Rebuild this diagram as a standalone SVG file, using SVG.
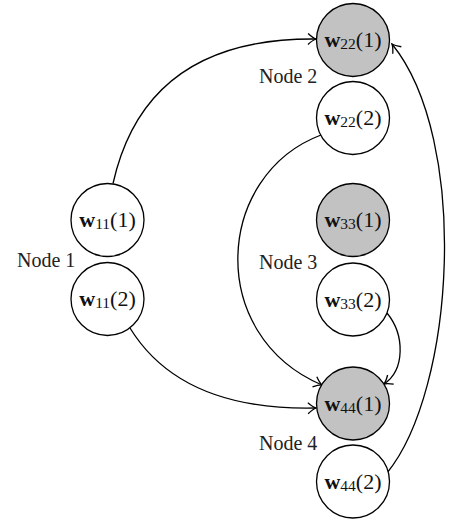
<svg xmlns="http://www.w3.org/2000/svg" width="449" height="523" viewBox="0 0 449 523">
  <style>
    .st { fill: #ffffff; stroke: #000000; stroke-width: 1.3; }
    .st.on { fill: #c2c2c2; }
    .lbl { font-family: "Liberation Serif", "DejaVu Serif", serif; font-size: 20px; fill: #222222; }
    .w { font-family: "Liberation Serif", "DejaVu Serif", serif; font-size: 22px; fill: #111111; text-anchor: middle; }
    .w .b { font-weight: bold; }
    .w .s { font-size: 15.5px; }
    .edge { fill: none; stroke: #000000; stroke-width: 1.3; marker-end: url(#arr); }
  </style>
  <defs>
    <marker id="arr" markerUnits="userSpaceOnUse" markerWidth="14" markerHeight="14" viewBox="-10 -7 12 14" refX="0" refY="0" orient="auto">
      <path d="M-8,-5.5 Q-3,-1 0,0 Q-3,1 -8,5.5" fill="none" stroke="#000000" stroke-width="1.3"/>
    </marker>
  </defs>

  <rect width="449" height="523" fill="#ffffff"/>

  <!-- state connectors -->
  <g id="connectors">
    <path class="edge" d="M113,183.5 C138,72 220,38 316,39"/>
    <path class="edge" d="M321,135 C215,175 205,335 322,385"/>
    <path class="edge" d="M130,328 C165,385 230,410 316,408"/>
    <path class="edge" d="M387,313 C405,335 405,370 384,384"/>
    <path class="edge" d="M387,473 C455,390 470,140 392,44"/>
  </g>

  <!-- node 1 -->
  <g id="node1">
    <text class="lbl" x="17" y="267">Node 1</text>
    <g id="w11-1">
      <circle class="st" cx="107.5" cy="220" r="36.5"/>
      <text class="w" x="107.5" y="227"><tspan class="b">w</tspan><tspan class="s" dy="2">11</tspan><tspan dy="-2">(1)</tspan></text>
    </g>
    <g id="w11-2">
      <circle class="st" cx="107.5" cy="299" r="36.5"/>
      <text class="w" x="107.5" y="306"><tspan class="b">w</tspan><tspan class="s" dy="2">11</tspan><tspan dy="-2">(2)</tspan></text>
    </g>
  </g>

  <!-- node 2 -->
  <g id="node2">
    <text class="lbl" x="259" y="83">Node 2</text>
    <g id="w22-1">
      <circle class="st on" cx="353" cy="40" r="36.5"/>
      <text class="w" x="353" y="47"><tspan class="b">w</tspan><tspan class="s" dy="2">22</tspan><tspan dy="-2">(1)</tspan></text>
    </g>
    <g id="w22-2">
      <circle class="st" cx="353" cy="118" r="36.5"/>
      <text class="w" x="353" y="125"><tspan class="b">w</tspan><tspan class="s" dy="2">22</tspan><tspan dy="-2">(2)</tspan></text>
    </g>
  </g>

  <!-- node 3 -->
  <g id="node3">
    <text class="lbl" x="259" y="269">Node 3</text>
    <g id="w33-1">
      <circle class="st on" cx="353" cy="220" r="36.5"/>
      <text class="w" x="353" y="227"><tspan class="b">w</tspan><tspan class="s" dy="2">33</tspan><tspan dy="-2">(1)</tspan></text>
    </g>
    <g id="w33-2">
      <circle class="st" cx="353" cy="299.5" r="36.5"/>
      <text class="w" x="353" y="306.5"><tspan class="b">w</tspan><tspan class="s" dy="2">33</tspan><tspan dy="-2">(2)</tspan></text>
    </g>
  </g>

  <!-- node 4 -->
  <g id="node4">
    <text class="lbl" x="259" y="450">Node 4</text>
    <g id="w44-1">
      <circle class="st on" cx="353" cy="403.5" r="36.5"/>
      <text class="w" x="353" y="410.5"><tspan class="b">w</tspan><tspan class="s" dy="2">44</tspan><tspan dy="-2">(1)</tspan></text>
    </g>
    <g id="w44-2">
      <circle class="st" cx="353" cy="481.5" r="36.5"/>
      <text class="w" x="353" y="488.5"><tspan class="b">w</tspan><tspan class="s" dy="2">44</tspan><tspan dy="-2">(2)</tspan></text>
    </g>
  </g>
</svg>
